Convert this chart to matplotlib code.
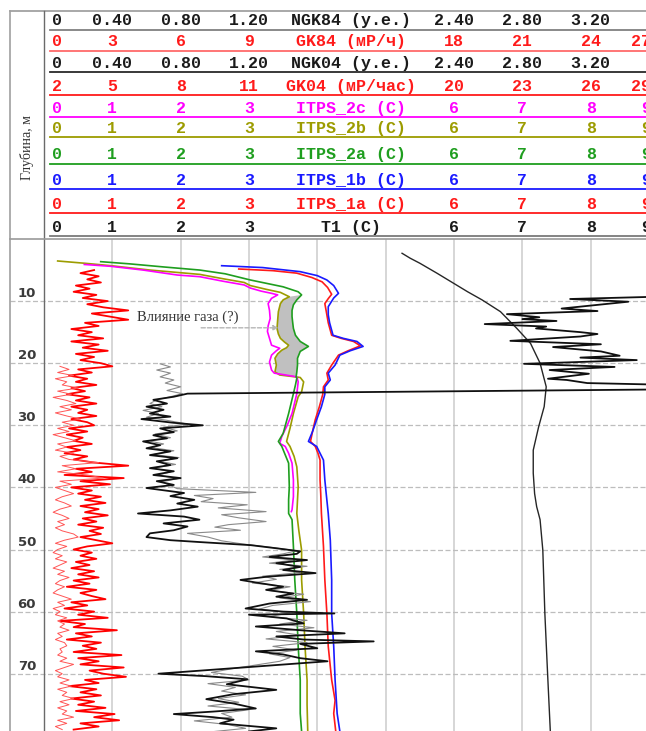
import numpy as np
import matplotlib
matplotlib.use("Agg")
import matplotlib.pyplot as plt

# ------------------------------------------------------------------ layout (px)
FIG_W, FIG_H, DPI = 646, 731, 100
LEFT_PX, ZERO_PX, DIV_PX = 10, 44, 68.33      # outer border, scale zero, one division
TOP_PX, M_PX = 239, 6.21                       # depth zero, pixels per metre

U_LEFT = -(ZERO_PX - LEFT_PX) / DIV_PX
U_RIGHT = 9.0
DEPTH_BOTTOM = (FIG_H - TOP_PX) / M_PX

# ------------------------------------------------------------------ scales (left, right)
scale_itps = (0.0, 9.0)
scale_ngk = (0.0, 3.6)
scale_gk84 = (0.0, 27.0)
scale_gk04 = (2.0, 29.0)

# ------------------------------------------------------------------ header rows
row_titles = ["NGK84 (у.е.)", "GK84 (мР/ч)", "NGK04 (у.е.)", "GK04 (мР/час)",
              "ITPS_2c (C)", "ITPS_2b (C)", "ITPS_2a (C)", "ITPS_1b (C)",
              "ITPS_1a (C)", "T1 (C)"]
row_scales = [scale_ngk, scale_gk84, scale_ngk, scale_gk04] + [scale_itps] * 6
ngk_ticks = ["0", "0.40", "0.80", "1.20", "2.40", "2.80", "3.20"]
deg_ticks = ["0", "1", "2", "3", "6", "7", "8", "9"]
row_ticks = [ngk_ticks,
             ["0", "3", "6", "9", "18", "21", "24", "27"],
             ngk_ticks,
             ["2", "5", "8", "11", "20", "23", "26", "29"]] + [deg_ticks] * 6

C_BLACK, C_RED, C_MAG = "#1a1a1a", "#ff1a1a", "#ff00ff"
C_OLIVE, C_GREEN, C_BLUE = "#9c9c00", "#1f9e1f", "#1a1aff"
row_text_colors = [C_BLACK, C_RED, C_BLACK, C_RED, C_MAG, C_OLIVE, C_GREEN,
                   C_BLUE, C_RED, C_BLACK]
row_line_colors = ["#808080", "#ff6a6a", "#2a2a2a", C_RED, C_MAG, C_OLIVE,
                   C_GREEN, C_BLUE, C_RED, "#7a7a7a"]
row_text_y = [20, 41, 63, 86.5, 108, 128.5, 154.5, 180, 204, 227]
row_line_y = [30, 51, 72, 95, 117, 137, 164, 189, 213, 236]

depth_ticks = [10, 20, 30, 40, 50, 60, 70]

# ------------------------------------------------------------------ GK 84 (mR/h), 0.5 m step from 5 m
gk84_top, gk84_step = 5.0, 0.5
gk84 = [2.2, 1.6, 2.4, 1.9, 2.5, 1.4, 2.0, 1.3, 2.3, 1.7,
        2.8, 1.9, 2.6, 3.7, 2.1, 2.9, 3.7, 1.8, 2.4, 1.2,
        2.1, 1.5, 2.6, 1.2, 2.4, 1.7, 2.8, 1.4, 2.2, 1.6,
        2.5, 3.0, 1.5, 2.1, 1.1, 1.9, 1.4, 2.3, 1.2, 1.8,
        1.0, 2.0, 1.4, 2.3, 1.2, 1.9, 1.5, 2.3, 1.2, 1.9,
        2.2, 1.1, 1.9, 1.0, 1.7, 1.3, 2.1, 1.0, 1.6, 0.9,
        1.9, 1.3, 2.2, 3.7, 1.4, 2.1, 0.9, 3.5, 1.6, 2.9,
        1.2, 2.1, 1.5, 2.5, 1.8, 2.7, 1.6, 2.4, 1.8, 2.8,
        1.7, 2.3, 1.5, 2.6, 2.0, 2.5, 1.6, 2.3, 3.0, 1.9,
        1.3, 2.1, 1.6, 2.3, 1.4, 2.0, 1.2, 2.2, 1.5, 2.4,
        1.3, 2.0, 1.0, 2.3, 1.6, 2.1, 2.7, 1.2, 1.9, 0.9,
        2.2, 1.5, 2.8, 0.7, 1.8, 1.3, 3.2, 1.4, 2.1, 1.0,
        2.5, 1.7, 2.3, 1.3, 3.4, 1.5, 2.4, 1.6, 3.5, 2.0,
        2.6, 3.6, 1.8, 2.4, 1.1, 2.3, 1.6, 2.5, 1.2, 2.2,
        1.5, 2.7, 1.4, 3.1, 2.2, 3.3, 1.6, 2.4, 1.3]

# ------------------------------------------------------------------ GK 04 (mR/h), 0.5 m step from 20.5 m
gk04_top, gk04_step = 20.5, 0.5
gk04 = [2.7, 3.1, 2.6, 3.3, 2.5, 3.0, 2.8, 3.5, 2.6, 3.2,
        2.4, 3.0, 3.4, 2.7, 3.2, 2.5, 3.0, 3.6, 2.8, 3.3,
        2.6, 3.1, 2.4, 2.9, 3.4, 2.6, 3.0, 2.5, 3.3, 2.7,
        3.1, 4.4, 2.8, 3.4, 2.6, 3.9, 4.6, 2.7, 3.2, 2.5,
        2.9, 3.3, 2.8, 2.5, 2.9, 3.2, 2.7, 2.4, 2.8, 3.1,
        2.6, 2.9, 2.5, 2.8, 3.3, 3.5, 2.9, 2.5, 3.0, 2.6,
        2.4, 2.8, 2.5, 3.0, 2.7, 2.4, 2.9, 2.6, 3.1, 2.7,
        2.5, 2.9, 2.6, 2.4, 2.8, 3.2, 2.6, 2.9, 2.4, 2.7,
        2.5, 3.0, 2.6, 2.9, 2.7, 3.1, 2.6, 2.8, 2.5, 2.9,
        3.0, 2.7, 2.8, 2.6, 3.0, 2.7, 3.3, 2.9, 2.5, 2.8,
        2.6, 3.1, 2.7, 3.2, 2.6, 3.0, 2.8, 3.3, 2.7, 3.1,
        2.6, 3.0, 2.8, 3.3, 2.6, 3.0, 2.5, 2.8]

# ------------------------------------------------------------------ NGK 84 (c.u.)
ngk84_depth = [9.2, 9.66, 10.1, 11.2, 11.6, 12.1, 12.6, 12.9, 13.2, 13.7,
               14.1, 14.4, 15.0, 15.3, 15.7, 16.4, 16.95, 17.4, 18.1, 18.8,
               19.1, 19.5, 20.1, 20.6, 21.1, 21.7, 22.5, 22.7, 23.2, 23.5,
               24.2, 24.9, 25.4, 25.9, 26.5, 27.0, 27.5, 28.1, 28.6, 29.0,
               29.6, 30.0, 30.5, 31.1, 31.6, 32.1, 32.6, 33.2, 33.7, 34.2,
               34.8, 35.3, 35.8, 36.4, 36.9, 37.4, 38.0, 38.5, 39.0, 39.6,
               40.1, 40.9, 41.4, 42.0, 42.6, 43.1, 43.7, 44.2, 44.7, 45.2,
               45.8, 46.3, 46.9, 47.4, 48.0, 48.5, 48.8, 49.3, 49.8, 50.3,
               50.7, 51.2, 51.7, 52.2, 52.8, 53.3, 53.8, 54.4, 54.9, 55.4,
               56.0, 56.5, 57.1, 57.6, 58.1, 58.7, 59.5, 60.0, 60.3, 60.5,
               61.1, 61.9, 62.4, 63.0, 63.5, 64.0, 64.5, 64.8, 65.2, 65.9,
               66.4, 66.9, 67.5, 68.0, 70.0, 70.4, 70.9, 71.7, 72.6, 73.3,
               74.1, 74.8, 75.6, 76.1, 76.5, 77.0, 77.4, 78.0, 78.8, 79.3]
ngk84 = [3.72, 3.08, 3.42, 3.03, 3.24, 2.71, 2.90, 2.80, 3.00, 2.58,
         2.94, 2.88, 3.14, 3.24, 3.14, 2.73, 3.26, 2.98, 3.26, 3.37,
         3.14, 3.47, 2.81, 3.34, 2.96, 3.19, 2.95, 3.06, 3.18, 3.68,
         3.72, 0.84, 0.76, 0.64, 0.72, 0.60, 0.70, 0.62, 0.74, 0.57,
         0.76, 0.93, 0.68, 0.76, 0.64, 0.72, 0.58, 0.68, 0.60, 0.74,
         0.62, 0.78, 0.66, 0.74, 0.62, 0.76, 0.64, 0.80, 0.66, 0.76,
         0.60, 0.82, 0.74, 0.88, 0.78, 0.90, 0.74, 0.55, 0.82, 0.91,
         0.70, 0.84, 0.76, 0.62, 0.60, 0.74, 0.91, 1.21, 1.36, 1.50,
         1.48, 1.32, 1.54, 1.36, 1.50, 1.40, 1.59, 1.30, 1.15, 1.26,
         1.40, 1.30, 1.46, 1.36, 1.54, 1.32, 1.18, 1.40, 1.70, 1.20,
         1.42, 1.52, 1.24, 1.50, 1.76, 1.36, 1.52, 1.93, 1.50, 1.60,
         1.24, 1.40, 1.50, 1.66, 0.67, 0.95, 1.19, 1.07, 1.36, 1.11,
         0.95, 1.11, 1.24, 0.99, 0.76, 0.99, 1.11, 1.03, 1.36, 1.20]

# ------------------------------------------------------------------ NGK 04 (c.u.)
ngk04_depth = [20.1, 20.6, 21.1, 21.6, 22.2, 22.7, 23.2, 23.8, 24.4, 24.9,
               25.4, 25.9, 26.5, 27.0, 27.6, 28.1, 28.7, 29.2, 29.8, 30.3,
               30.9, 31.4, 32.0, 32.5, 33.0, 33.6, 34.1, 34.7, 35.2, 35.8,
               36.3, 36.9, 37.5, 38.0, 38.6, 39.1, 39.7, 40.2, 40.8, 41.3,
               41.8, 42.3, 42.8, 43.3, 43.9, 44.4, 44.9, 45.5, 46.0, 46.4,
               46.9, 47.4, 48.0, 48.6, 49.1, 49.7, 50.2, 50.7, 51.2, 51.7,
               52.2, 52.7, 53.2, 53.7, 54.3, 54.8, 55.4, 56.0, 56.6, 57.2,
               57.8, 58.4, 59.0, 59.6, 60.2, 60.8, 61.4, 62.0, 62.6, 63.2,
               63.8, 64.4, 65.0, 65.6, 66.2, 66.8, 67.4, 68.0, 68.6, 69.2,
               69.8, 70.4, 71.0, 71.6, 72.2, 72.8, 73.4, 74.0, 74.6, 75.2,
               75.8, 76.4, 77.0, 77.6, 78.2, 78.8, 79.3]
ngk04 = [0.68, 0.74, 0.66, 0.74, 0.68, 0.76, 0.71, 0.80, 0.72, 0.81,
         0.74, 0.66, 0.62, 0.69, 0.58, 0.67, 0.60, 0.72, 0.84, 0.70,
         0.78, 0.65, 0.74, 0.61, 0.70, 0.63, 0.76, 0.64, 0.79, 0.68,
         0.77, 0.64, 0.74, 0.67, 0.78, 0.69, 0.74, 0.78, 1.24, 0.88,
         0.99, 0.92, 1.19, 1.02, 1.30, 1.04, 1.14, 1.30, 1.08, 1.00,
         1.15, 0.84, 0.96, 1.04, 1.16, 1.34, 1.48, 1.40, 1.28, 1.46,
         1.32, 1.54, 1.38, 1.50, 1.28, 1.36, 1.22, 1.44, 1.32, 1.52,
         1.38, 1.56, 1.34, 1.26, 1.44, 1.32, 1.54, 1.38, 1.58, 1.36,
         1.50, 1.30, 1.54, 1.34, 1.48, 1.32, 1.44, 1.38, 1.24, 1.10,
         0.98, 1.16, 1.20, 0.96, 1.12, 1.04, 1.18, 1.02, 1.14, 0.96,
         1.20, 1.04, 1.10, 0.88, 1.08, 1.18, 1.00]

# ------------------------------------------------------------------ ITPS temperature probes (C)
itps2c_depth = [4.1, 4.4, 5.0, 5.8, 6.07, 6.8, 7.4, 7.9, 8.4, 8.75,
                9.0, 9.55, 10.4, 11.5, 12.8, 14.0, 14.9, 16.0, 17.1, 17.6,
                18.0, 18.7, 19.8, 21.1, 21.6, 22.2, 23.0, 24.9, 28.1, 30.0,
                31.8, 32.9, 33.4, 34.5, 36.1, 38.8, 41.5, 43.6, 43.9]
itps2c = [0.59, 0.98, 1.45, 1.95, 2.28, 2.62, 2.93, 3.02, 3.18, 3.33,
          3.42, 3.33, 3.28, 3.30, 3.31, 3.28, 3.27, 3.30, 3.33, 3.45,
          3.40, 3.33, 3.30, 3.33, 3.37, 3.70, 3.72, 3.70, 3.63, 3.56,
          3.48, 3.45, 3.53, 3.58, 3.63, 3.65, 3.65, 3.63, 3.62]

itps2b_depth = [3.54, 3.9, 4.3, 5.0, 5.7, 6.4, 7.0, 7.5, 8.1, 8.6,
                9.3, 9.8, 10.4, 11.7, 13.0, 14.4, 15.3, 16.0, 16.6, 17.1,
                17.5, 17.9, 18.5, 19.2, 20.3, 21.4, 21.9, 22.3, 23.0, 24.6,
                25.4, 28.1, 30.5, 32.6, 33.4, 35.0, 36.7, 39.9, 42.0, 44.2,
                47.0, 50.1, 54.9, 60.3, 65.6, 71.0, 75.0, 79.3]
itps2b = [0.20, 0.59, 0.98, 1.55, 2.28, 2.62, 2.93, 3.02, 3.25, 3.46,
          3.59, 3.50, 3.46, 3.43, 3.42, 3.41, 3.43, 3.46, 3.52, 3.58,
          3.55, 3.48, 3.42, 3.38, 3.40, 3.38, 3.45, 3.75, 3.80, 3.77,
          3.72, 3.65, 3.60, 3.55, 3.60, 3.66, 3.70, 3.72, 3.71, 3.70,
          3.73, 3.77, 3.77, 3.80, 3.82, 3.85, 3.85, 3.86]

itps2a_depth = [3.65, 4.0, 4.5, 5.0, 5.6, 6.6, 7.7, 8.5, 9.0, 9.8,
                10.6, 11.5, 12.5, 13.5, 14.4, 15.5, 16.5, 17.3, 18.1, 19.2,
                20.3, 21.4, 22.2, 22.4, 23.5, 24.9, 28.1, 31.3, 32.6, 33.4,
                36.1, 39.9, 42.0, 44.2, 45.2, 49.5, 54.9, 60.3, 65.6, 71.0,
                76.4, 79.3]
itps2a = [0.83, 1.25, 1.75, 2.28, 2.65, 3.02, 3.50, 3.72, 3.77, 3.70,
          3.65, 3.63, 3.63, 3.64, 3.65, 3.68, 3.75, 3.87, 3.75, 3.71,
          3.71, 3.70, 3.69, 3.70, 3.68, 3.65, 3.58, 3.50, 3.43, 3.48,
          3.58, 3.59, 3.58, 3.58, 3.63, 3.65, 3.67, 3.70, 3.72, 3.75,
          3.75, 3.77]

itps1b_depth = [4.3, 4.6, 5.26, 5.9, 6.6, 7.5, 8.75, 9.5, 10.9, 12.2,
                13.5, 15.5, 16.0, 16.5, 17.3, 18.0, 18.7, 20.3, 21.6, 22.7,
                23.8, 25.0, 27.0, 29.1, 31.0, 32.6, 33.4, 34.5, 35.6, 38.8,
                41.0, 44.2, 48.5, 54.9, 60.3, 65.6, 71.0, 76.4, 79.3]
itps1b = [2.60, 3.20, 3.75, 4.00, 4.14, 4.24, 4.31, 4.24, 4.16, 4.16,
          4.18, 4.23, 4.38, 4.58, 4.67, 4.48, 4.33, 4.26, 4.16, 4.19,
          4.11, 4.11, 4.06, 3.99, 3.93, 3.87, 3.99, 4.04, 4.09, 4.11,
          4.13, 4.16, 4.19, 4.21, 4.21, 4.24, 4.26, 4.29, 4.33]

itps1a_depth = [4.83, 5.1, 5.5, 6.2, 6.9, 7.8, 8.9, 9.6, 10.4, 11.6,
                13.5, 15.5, 16.0, 16.5, 17.2, 18.0, 18.7, 20.3, 21.6, 22.7,
                23.8, 25.0, 27.0, 29.1, 31.0, 32.6, 33.4, 34.5, 35.6, 38.8,
                41.0, 44.2, 49.5, 54.9, 60.3, 65.6, 71.0, 74.3, 76.4, 79.3]
itps1a = [2.85, 3.35, 3.70, 3.92, 4.07, 4.15, 4.21, 4.16, 4.11, 4.13,
          4.16, 4.21, 4.35, 4.53, 4.63, 4.45, 4.31, 4.21, 4.14, 4.16,
          4.09, 4.08, 4.03, 3.97, 3.93, 3.90, 3.97, 4.01, 4.04, 4.04,
          4.05, 4.06, 4.09, 4.11, 4.14, 4.16, 4.21, 4.26, 4.24, 4.27]

t1_depth = [2.3, 2.7, 3.1, 3.9, 5.5, 7.1, 8.5, 9.8, 11.7, 14.4,
            16.8, 20.0, 23.8, 27.0, 30.2, 34.0, 37.7, 41.0, 43.1, 45.2,
            50.1, 60.3, 70.0, 79.3]
t1 = [5.24, 5.30, 5.36, 5.50, 5.75, 5.99, 6.20, 6.41, 6.68, 6.92,
      7.12, 7.26, 7.35, 7.32, 7.24, 7.16, 7.16, 7.18, 7.21, 7.26,
      7.30, 7.33, 7.37, 7.41]

# interval where ITPS_2b and ITPS_2a diverge (shaded)
gas_top, gas_bottom = 9.0, 22.2
gas_label = "Влияние газа (?)"

# ------------------------------------------------------------------ figure
fig = plt.figure(figsize=(FIG_W / DPI, FIG_H / DPI), dpi=DPI)
fig.patch.set_facecolor("white")

track_h = (FIG_H - TOP_PX) / FIG_H
ax = fig.add_axes([LEFT_PX / FIG_W, 0, (U_RIGHT - U_LEFT) * DIV_PX / FIG_W, track_h])
ax.set_xlim(U_LEFT, U_RIGHT)
ax.set_ylim(DEPTH_BOTTOM, 0)
for s in ax.spines.values():
    s.set_visible(False)
ax.set_xticks([])
ax.set_yticks([])


def twin_track(scale):
    lo, hi = scale
    t = ax.twiny()
    t.set_xlim(lo + (hi - lo) * U_LEFT / 9.0, lo + (hi - lo) * U_RIGHT / 9.0)
    t.axis("off")
    return t


ax_gk84 = twin_track(scale_gk84)
ax_gk04 = twin_track(scale_gk04)
ax_ngk = twin_track(scale_ngk)

# grid
for k in range(1, 9):
    ax.axvline(k, color="#cfcfcf", lw=1.2, zorder=0)
for d in depth_ticks:
    ax.axhline(d, color="#bdbdbd", lw=0.9, ls=(0, (4, 2)), zorder=0)
    ax.annotate(str(d), xy=(0, d), xycoords=("data", "data"),
                xytext=(-8, 4), textcoords="offset pixels",
                ha="right", va="baseline", fontsize=9.5, fontweight="bold",
                family="DejaVu Sans", color="#3a3a3a")

# gas-affected interval between ITPS_2b and ITPS_2a
d2b, v2b = np.array(itps2b_depth), np.array(itps2b)
d2a, v2a = np.array(itps2a_depth), np.array(itps2a)
m2b = (d2b >= gas_top + 0.3) & (d2b <= gas_bottom - 0.3)
m2a = (d2a >= gas_top) & (d2a <= gas_bottom)
poly_x = np.concatenate([v2b[m2b], v2a[m2a][::-1]])
poly_y = np.concatenate([d2b[m2b], d2a[m2a][::-1]])
ax.fill(poly_x, poly_y, color="#c0c0c0", lw=0, zorder=1)

# temperature curves
ax.plot(t1, t1_depth, color="#262626", lw=1.0, zorder=2)
ax.plot(itps1a, itps1a_depth, color=C_RED, lw=1.2, zorder=3)
ax.plot(itps1b, itps1b_depth, color=C_BLUE, lw=1.2, zorder=3)
ax.plot(itps2b, itps2b_depth, color=C_OLIVE, lw=1.2, zorder=3)
ax.plot(itps2c, itps2c_depth, color=C_MAG, lw=1.2, zorder=3)
ax.plot(itps2a, itps2a_depth, color=C_GREEN, lw=1.2, zorder=3)

# gamma logs
gk84_depth = gk84_top + gk84_step * np.arange(len(gk84))
gk04_depth = gk04_top + gk04_step * np.arange(len(gk04))
ax_gk04.plot(gk04, gk04_depth, color="#ff5555", lw=0.7)
ax_gk84.plot(gk84, gk84_depth, color="#ff0000", lw=1.3)

# neutron logs
ax_ngk.plot(ngk04, ngk04_depth, color="#8a8a8a", lw=0.8)
ax_ngk.plot(ngk84, ngk84_depth, color="#101010", lw=1.3)

# annotation of the shaded interval
ax.text(1.36, 12.6, gas_label, family="Liberation Serif", fontsize=10.5,
        ha="left", va="center", color="#333333", zorder=5)
ax.annotate("", xy=(3.43, 14.3), xytext=(2.30, 14.3),
            arrowprops=dict(arrowstyle="-|>", color="#b5b5b5", lw=1.0,
                            ls=(0, (3, 1.5)), mutation_scale=7,
                            shrinkA=0, shrinkB=0), zorder=5)

# ------------------------------------------------------------------ header
hdr = fig.add_axes([LEFT_PX / FIG_W, track_h, (U_RIGHT - U_LEFT) * DIV_PX / FIG_W,
                    TOP_PX / FIG_H])
hdr.set_xlim(U_LEFT, U_RIGHT)
hdr.set_ylim(TOP_PX, 0)
hdr.axis("off")

u_first = (51.5 - ZERO_PX) / DIV_PX
u_last = (651 - ZERO_PX) / DIV_PX
line_start = (50 - ZERO_PX) / DIV_PX
for title, (lo, hi), ticks, tc, lc, ty, ly in zip(
        row_titles, row_scales, row_ticks, row_text_colors, row_line_colors,
        row_text_y, row_line_y):
    kw = dict(family="Liberation Mono", fontsize=12, fontweight="bold",
              color=tc, va="baseline")
    for lab in ticks:
        u = (float(lab) - lo) / (hi - lo) * 9.0
        if u < 0.01:
            hdr.text(u_first, ty + 4.6, lab, ha="left", **kw)
        elif u > 8.99:
            hdr.text(u_last, ty + 4.6, lab, ha="right", **kw)
        else:
            hdr.text(u, ty + 4.6, lab, ha="center", **kw)
    hdr.text(4.5, ty + 4.6, title, ha="center", **kw)
    hdr.plot([line_start, U_RIGHT], [ly, ly], color=lc, lw=1.3)

# ------------------------------------------------------------------ frame
fr = fig.add_axes([0, 0, 1, 1])
fr.set_xlim(0, FIG_W)
fr.set_ylim(FIG_H, 0)
fr.axis("off")
fr.patch.set_visible(False)
fr.plot([LEFT_PX, FIG_W], [11, 11], color="#9a9a9a", lw=1.2)
fr.plot([LEFT_PX, LEFT_PX], [11, FIG_H], color="#a0a0a0", lw=1.2)
fr.plot([ZERO_PX, ZERO_PX], [11, FIG_H], color="#6a6a6a", lw=1.0)
fr.plot([LEFT_PX, FIG_W], [TOP_PX, TOP_PX], color="#9a9a9a", lw=1.2)
fr.text(27, 147, "Глубина, м", rotation=90, family="Liberation Serif",
        fontsize=10, ha="center", va="center", color="#333333")

fig.savefig("out.png", dpi=DPI, facecolor="white")
